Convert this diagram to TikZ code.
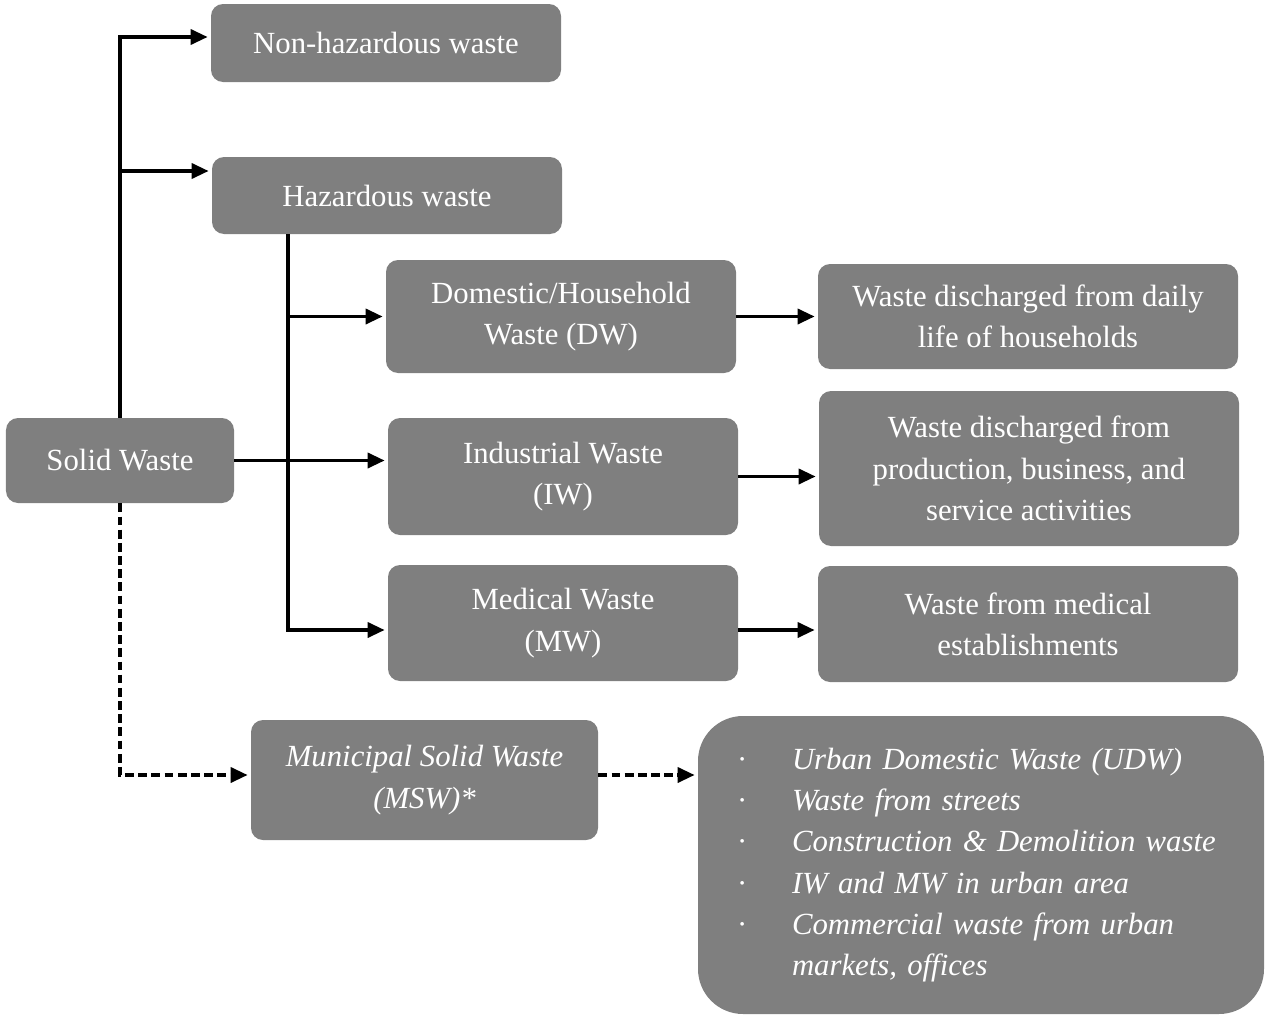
\documentclass[tikz,border=0pt]{standalone}
\usepackage{fontspec}
\setmainfont{Liberation Serif}
\usetikzlibrary{arrows.meta}
\definecolor{boxgray}{HTML}{7F7F7F}

\begin{document}
\begin{tikzpicture}[
    box/.style={fill=boxgray, rounded corners=0.24cm, text=white, align=center,
        inner sep=0pt, font=\fontsize{17.5}{23.5}\selectfont},
    link/.style={line width=2pt, shorten >=0.6mm, -{Triangle[length=3.4mm,width=3mm]}},
    dashlink/.style={link, dash pattern=on 5pt off 2.5pt}
]
    \useasboundingbox (0,0) rectangle (25.3,-20.32);

    \node[box, minimum width=7cm, minimum height=1.56cm] (nonhaz) at (7.72,-0.86) {Non-hazardous waste};
    \node[box, minimum width=7cm, minimum height=1.54cm] (haz) at (7.74,-3.91) {Hazardous waste};
    \node[box, minimum width=4.56cm, minimum height=1.7cm] (solid) at (2.4,-9.21) {Solid Waste};

    \node[box, minimum width=7cm, minimum height=2.26cm] (dw) at (11.22,-6.33) {Domestic/Household\\Waste (DW)};
    \node[box, minimum width=7cm, minimum height=2.34cm] (iw) at (11.26,-9.53) {Industrial Waste\\(IW)};
    \node[box, minimum width=7cm, minimum height=2.32cm] (mw) at (11.26,-12.46) {Medical Waste\\(MW)};

    \node[box, minimum width=8.4cm, minimum height=2.1cm] (dwdesc) at (20.56,-6.33) {Waste discharged from daily\\life of households};
    \node[box, minimum width=8.4cm, minimum height=3.1cm] (iwdesc) at (20.58,-9.37) {Waste discharged from\\production, business, and\\service activities};
    \node[box, minimum width=8.4cm, minimum height=2.32cm] (mwdesc) at (20.56,-12.48) {Waste from medical\\establishments};

    \node[box, minimum width=6.94cm, minimum height=2.4cm, font=\fontsize{17.5}{23.5}\selectfont\itshape] (msw) at (8.49,-15.6) {Municipal Solid Waste\\(MSW)*};
    \node[box, rounded corners=0.9cm, minimum width=11.32cm, minimum height=5.96cm, text width=9.76cm, align=left,
        font=\fontsize{17.5}{23.5}\selectfont\itshape] (list) at (19.62,-17.3) {%
        \makebox[1.1cm][l]{\upshape\textperiodcentered}Urban Domestic Waste (UDW)\\
        \makebox[1.1cm][l]{\upshape\textperiodcentered}Waste from streets\\
        \makebox[1.1cm][l]{\upshape\textperiodcentered}Construction \& Demolition waste\\
        \makebox[1.1cm][l]{\upshape\textperiodcentered}IW and MW in urban area\\
        \makebox[1.1cm][l]{\upshape\textperiodcentered}Commercial waste from urban\\
        \makebox[1.1cm][l]{}markets, offices};

    \coordinate (hazdrop) at ([xshift=-1.98cm]haz.south);

    \draw[link] (solid.north) |- ([yshift=1.2mm]nonhaz.west);
    \draw[link] (solid.north) |- ([yshift=4.9mm]haz.west);
    \draw[link] (solid.east) -- (solid.east -| iw.west);

    \draw[link] (hazdrop) |- (dw.west);
    \draw[link] (hazdrop) |- ([yshift=-1.4mm]mw.west);

    \draw[link] (dw.east) -- (dwdesc.west);
    \draw[link] (iw.east) -- (iw.east -| iwdesc.west);
    \draw[link] ([yshift=-1.4mm]mw.east) -- ([yshift=-1.4mm]mw.east -| mwdesc.west);

    \draw[dashlink] (solid.south) |- ([yshift=1mm]msw.west);
    \draw[dashlink] ([yshift=1mm]msw.east) -- ([yshift=1mm]msw.east -| list.west);
\end{tikzpicture}
\end{document}
